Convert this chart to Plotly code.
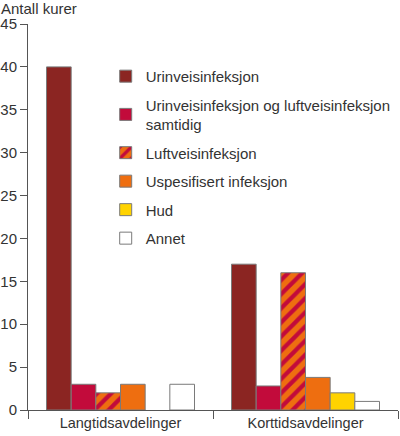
import plotly.graph_objects as go

# ── Data ─────────────────────────────────────────────────────────────────────
categories = ["Langtidsavdelinger", "Korttidsavdelinger"]

series_names = [
    "Urinveisinfeksjon",
    "Urinveisinfeksjon og luftveisinfeksjon<br>samtidig",
    "Luftveisinfeksjon",
    "Uspesifisert infeksjon",
    "Hud",
    "Annet",
]
urinvei = [40, 17]
urin_og_luft = [3, 2.8]
luftvei = [2, 16]
uspesifisert = [3, 3.8]
hud = [None, 2]
annet = [3, 1]

y_ticks = [0, 5, 10, 15, 20, 25, 30, 35, 40, 45]

# ── Colours ──────────────────────────────────────────────────────────────────
DARK_RED = "#8B2522"
CRIMSON = "#C20B3B"
ORANGE = "#EE6E10"
YELLOW = "#FFD300"
WHITE = "#FFFFFF"
EDGE = "#7A7A7A"
TEXT = "#333333"
AXIS = "#555555"

values = [urinvei, urin_og_luft, luftvei, uspesifisert, hud, annet]
colours = [DARK_RED, CRIMSON, ORANGE, ORANGE, YELLOW, WHITE]

fig = go.Figure()
for i, (name, vals, col) in enumerate(zip(series_names, values, colours)):
    marker = dict(color=col, line=dict(color=EDGE, width=1))
    if i == 2:
        # striped orange/crimson bar
        marker["pattern"] = dict(shape="/", fgcolor=CRIMSON, bgcolor=ORANGE,
                                 fillmode="replace", size=10, solidity=0.42)
    fig.add_trace(go.Bar(
        x=categories, y=vals, name=name, marker=marker,
        legendgroup=f"g{i}",
    ))

fig.update_layout(
    width=400, height=436,
    paper_bgcolor="white", plot_bgcolor="white",
    font=dict(family="Liberation Sans, Arial, sans-serif", size=14, color=TEXT),
    margin=dict(l=28, r=2, t=24, b=26),
    barmode="group",
    bargap=0.2,
    bargroupgap=0,
    showlegend=True,
    legend=dict(
        x=0.21, y=0.907, xanchor="left", yanchor="top",
        bgcolor="rgba(0,0,0,0)",
        font=dict(size=15, color=TEXT),
        tracegroupgap=6,
        traceorder="grouped",
    ),
    xaxis=dict(
        automargin=False,
        showline=True, linecolor=AXIS, linewidth=1,
        ticks="outside", ticklen=8, tickcolor=AXIS,
        tickson="boundaries",
        tickfont=dict(size=14.5, color=TEXT),
        showgrid=False, zeroline=False,
    ),
    yaxis=dict(
        automargin=False,
        range=[0, 45],
        tickvals=y_ticks,
        showline=True, linecolor=AXIS, linewidth=1,
        ticks="outside", ticklen=7, tickcolor=AXIS,
        tickfont=dict(size=15, color=TEXT),
        showgrid=False, zeroline=False,
    ),
    annotations=[dict(
        text="Antall kurer", xref="paper", yref="paper",
        x=-0.0757, y=1.064, xanchor="left", yanchor="top",
        borderpad=0,
        showarrow=False, font=dict(size=15, color=TEXT),
    )],
)

# drop the browser's default body margin so the 400x436 figure fits the window
fig.write_html(
    "out.html",
    config={"displayModeBar": False},
    post_script="document.body.style.margin='0';",
)
